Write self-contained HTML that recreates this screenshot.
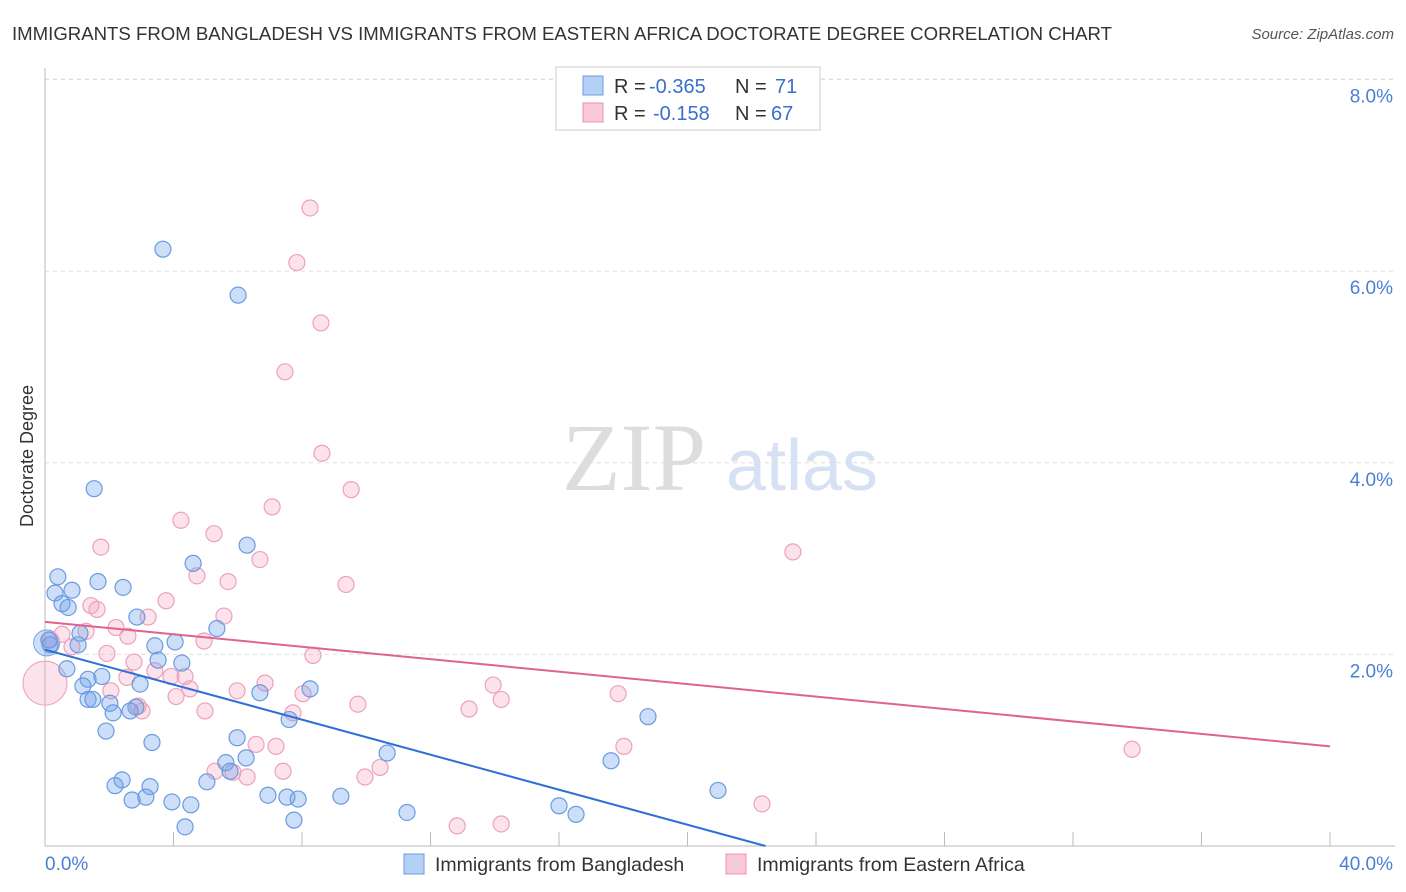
<!DOCTYPE html>
<html><head><meta charset="utf-8"><style>
body{margin:0;background:#fff;font-family:"Liberation Sans",sans-serif;}
svg{display:block}
</style></head><body>
<svg id="chart" width="1406" height="892" xmlns="http://www.w3.org/2000/svg">
<text x="12" y="40" font-size="18.5" fill="#333" textLength="1100" lengthAdjust="spacingAndGlyphs">IMMIGRANTS FROM BANGLADESH VS IMMIGRANTS FROM EASTERN AFRICA DOCTORATE DEGREE CORRELATION CHART</text>
<text x="1394" y="39" font-size="15" fill="#555" text-anchor="end" font-style="italic">Source: ZipAtlas.com</text>
<g>
<text x="634" y="490" font-size="96" fill="#ddd" font-family="Liberation Serif" text-anchor="middle">ZIP</text>
<text x="802" y="490" font-size="72" fill="#d6e2f3" text-anchor="middle">atlas</text>
</g>
<text transform="translate(33,456) rotate(-90)" font-size="18" fill="#333" text-anchor="middle">Doctorate Degree</text>
<g id="grid"></g><g id="axes"></g><g id="marks"></g><g id="lines"></g>
<g>
<rect x="556" y="67" width="264" height="63" fill="#fff" stroke="#ccc"/>
<rect x="583" y="76" width="20" height="19" fill="#b5d0f5" stroke="#6a9be0"/>
<rect x="583" y="103" width="20" height="19" fill="#f9c9d8" stroke="#e890b0"/>
<text x="614" y="93" font-size="20" fill="#333">R =</text>
<text x="649" y="93" font-size="20" fill="#3a6fd0">-0.365</text>
<text x="735" y="93" font-size="20" fill="#333">N =</text>
<text x="775" y="93" font-size="20" fill="#3a6fd0">71</text>
<text x="614" y="120" font-size="20" fill="#333">R =</text>
<text x="653" y="120" font-size="20" fill="#3a6fd0">-0.158</text>
<text x="735" y="120" font-size="20" fill="#333">N =</text>
<text x="771" y="120" font-size="20" fill="#3a6fd0">67</text>
</g>
<g>
<rect x="404" y="854" width="20" height="20" fill="#b5d0f5" stroke="#6a9be0"/>
<text x="435" y="871" font-size="19.5" fill="#333">Immigrants from Bangladesh</text>
<rect x="726" y="854" width="20" height="20" fill="#f9c9d8" stroke="#e890b0"/>
<text x="757" y="871" font-size="19.5" fill="#333">Immigrants from Eastern Africa</text>
</g>
</svg>
<script>
const yTicks=[2,4,6,8];
const yTickLabels=["2.0%","4.0%","6.0%","8.0%"];
const xTicks=[0,4,8,12,16,20,24,28,32,36,40];
const xEndLabels=["0.0%","40.0%"];
const blueX=[3.67,6.01,1.53,6.29,4.61,0.40,1.65,2.43,0.84,0.31,0.53,0.72,2.86,5.35,1.09,4.05,0.12,1.03,3.42,4.26,3.52,0.68,1.77,1.34,2.96,1.18,6.69,8.25,1.34,1.49,2.02,2.83,2.65,2.12,7.60,18.77,1.90,3.33,5.98,10.65,6.26,5.63,17.62,5.76,2.40,2.18,3.27,5.04,20.95,6.94,7.53,9.21,7.88,2.71,3.14,3.95,4.54,11.27,16.00,16.53,7.75,4.36,0.16];
const blueY=[6.23,5.75,3.73,3.14,2.95,2.81,2.76,2.70,2.67,2.64,2.53,2.49,2.39,2.27,2.22,2.13,2.15,2.10,2.09,1.91,1.94,1.85,1.77,1.74,1.69,1.67,1.60,1.64,1.53,1.53,1.49,1.45,1.41,1.39,1.32,1.35,1.20,1.08,1.13,0.97,0.92,0.87,0.89,0.78,0.69,0.63,0.62,0.67,0.58,0.53,0.51,0.52,0.49,0.48,0.51,0.46,0.43,0.35,0.42,0.33,0.27,0.20,2.10];
const pinkX=[8.25,7.84,8.59,7.47,8.62,9.53,7.07,4.23,5.26,1.74,23.28,6.69,4.73,5.70,9.37,3.77,1.43,1.62,3.21,5.57,2.21,1.28,0.53,4.95,2.58,0.84,8.34,1.93,2.77,3.92,2.55,4.36,3.42,6.85,13.95,2.05,4.51,5.98,4.08,8.03,14.20,17.84,9.74,13.20,4.98,3.02,2.90,7.72,6.57,7.19,18.02,33.84,10.43,5.29,5.85,6.29,7.41,9.96,22.32,12.83,14.20,0.16];
const pinkY=[6.66,6.09,5.46,4.95,4.10,3.72,3.54,3.40,3.26,3.12,3.07,2.99,2.82,2.76,2.73,2.56,2.51,2.47,2.39,2.40,2.28,2.24,2.21,2.14,2.19,2.08,1.99,2.01,1.92,1.77,1.76,1.77,1.83,1.70,1.68,1.62,1.64,1.62,1.56,1.59,1.53,1.59,1.48,1.43,1.41,1.41,1.46,1.39,1.06,1.04,1.04,1.01,0.82,0.78,0.77,0.72,0.78,0.72,0.44,0.21,0.23,2.15];
const bigBlue=[0.05,2.12];
const bigPink=[0.0,1.70];
const blueTrend=[2.05,-0.0914];
const pinkTrend=[2.34,-0.0325];
const NS="http://www.w3.org/2000/svg";
const X=v=>45+v/40*1285, Y=v=>846-v*95.8;
function mk(tag,at,parent){const e=document.createElementNS(NS,tag);for(const k in at)e.setAttribute(k,at[k]);document.getElementById(parent).appendChild(e);return e;}
yTicks.forEach((t,i)=>{
 const l=mk('line',{x1:45,x2:1395,y1:Y(t),y2:Y(t),stroke:'#ddd','stroke-dasharray':'4,4'},'grid');
 
 
 const tx=mk('text',{x:1393,y:Y(t)+23,'font-size':19,fill:'#4a7fd8','text-anchor':'end'},'axes');tx.textContent=yTickLabels[i];
 
 
});
const topGrid=mk('line',{x1:45,x2:1395,y1:79,y2:79,stroke:'#ddd','stroke-dasharray':'4,4'},'grid');


const ax=mk('line',{x1:45,x2:1395,y1:846,y2:846,stroke:'#bbb'},'axes');


const ay=mk('line',{x1:45,x2:45,y1:68,y2:846,stroke:'#bbb'},'axes');


xTicks.forEach(t=>{const l=mk('line',{x1:X(t),x2:X(t),y1:832,y2:846,stroke:'#bbb'},'axes');
 
 });
const xl0=mk('text',{x:45,y:870,'font-size':19,fill:'#4a7fd8'},'axes');xl0.textContent=xEndLabels[0];


const xl1=mk('text',{x:1393,y:870,'font-size':19,fill:'#4a7fd8','text-anchor':'end'},'axes');xl1.textContent=xEndLabels[1];


const bb=mk('circle',{cx:X(bigBlue[0]),cy:Y(bigBlue[1]),r:13,fill:'rgba(110,160,235,0.35)',stroke:'#7aa6e6'},'marks');


const bp=mk('circle',{cx:X(bigPink[0]),cy:Y(bigPink[1]),r:22,fill:'rgba(245,160,190,0.3)',stroke:'#eea0bc'},'marks');


pinkX.forEach((v,i)=>{const c=mk('circle',{cx:X(v),cy:Y(pinkY[i]),r:8,fill:'rgba(245,160,190,0.3)',stroke:'#eea0bc','stroke-width':1.2},'marks');
 
 });
blueX.forEach((v,i)=>{const c=mk('circle',{cx:X(v),cy:Y(blueY[i]),r:8,fill:'rgba(110,160,235,0.35)',stroke:'#6a9be0','stroke-width':1.2},'marks');
 
 });
const bEnd=-blueTrend[0]/blueTrend[1];
const bl=mk('line',{x1:X(0),y1:Y(blueTrend[0]),x2:X(bEnd),y2:Y(0),stroke:'#2f6fd6','stroke-width':2},'lines');


const pl=mk('line',{x1:X(0),y1:Y(pinkTrend[0]),x2:X(40),y2:Y(pinkTrend[0]+pinkTrend[1]*40),stroke:'#e0628f','stroke-width':2},'lines');


</script>
</body></html>
